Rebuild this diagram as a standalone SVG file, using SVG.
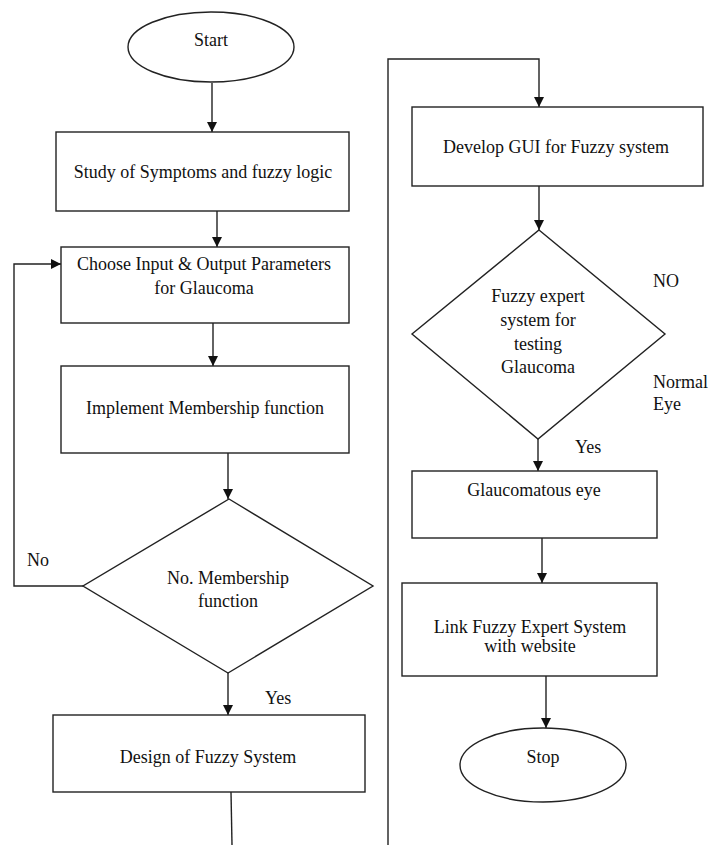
<svg xmlns="http://www.w3.org/2000/svg" width="709" height="845" viewBox="0 0 709 845">
<style>
.n{fill:#fff;stroke:#222;stroke-width:1.4}
.c{fill:none;stroke:#222;stroke-width:1.4}
text{font-family:"Liberation Serif","Times New Roman",serif;font-size:18px;fill:#111}
.m{text-anchor:middle}
</style>
<defs>
<marker id="ah" viewBox="0 0 10 10" refX="10" refY="5" markerWidth="10" markerHeight="10" markerUnits="userSpaceOnUse" orient="auto">
<path d="M0,0 L10,5 L0,10 Z" fill="#111"/>
</marker>
</defs>
<rect width="709" height="845" fill="#fff"/>
<g id="connectors">
<path class="c" d="M212,83 V132" marker-end="url(#ah)"/>
<path class="c" d="M217,211 V247" marker-end="url(#ah)"/>
<path class="c" d="M213,323 V366" marker-end="url(#ah)"/>
<path class="c" d="M228,453 V499" marker-end="url(#ah)"/>
<path class="c" d="M83,586 H14 V264 H61" marker-end="url(#ah)"/>
<path class="c" d="M228,673 V715" marker-end="url(#ah)"/>
<path class="c" d="M231,792 L232,845"/>
<path class="c" d="M388,845 V59 H539 V107" marker-end="url(#ah)"/>
<path class="c" d="M539,186 V230" marker-end="url(#ah)"/>
<path class="c" d="M538,439 V471" marker-end="url(#ah)"/>
<path class="c" d="M542,538 V583" marker-end="url(#ah)"/>
<path class="c" d="M546,676 V728" marker-end="url(#ah)"/>
</g>
<g id="start"><ellipse class="n" cx="211" cy="47" rx="83" ry="35"/><text class="m" x="211" y="46">Start</text></g>
<g id="study"><rect class="n" x="56" y="132" width="293" height="79"/><text class="m" x="203" y="178">Study of Symptoms and fuzzy logic</text></g>
<g id="choose"><rect class="n" x="61" y="247" width="288" height="76"/><text class="m" x="204" y="270">Choose Input &amp; Output Parameters</text><text class="m" x="204" y="294">for Glaucoma</text></g>
<g id="implement"><rect class="n" x="61" y="366" width="288" height="87"/><text class="m" x="205" y="414">Implement Membership function</text></g>
<g id="decision1"><polygon class="n" points="229,499 373,586 228,673 83,586"/><text class="m" x="228" y="584">No. Membership</text><text class="m" x="228" y="607">function</text></g>
<text x="27" y="566">No</text>
<text x="265" y="704">Yes</text>
<g id="design"><rect class="n" x="53" y="715" width="312" height="77"/><text class="m" x="208" y="763">Design of Fuzzy System</text></g>
<g id="gui"><rect class="n" x="412" y="107" width="291" height="79"/><text class="m" x="556" y="153">Develop GUI for Fuzzy system</text></g>
<g id="decision2"><polygon class="n" points="539,230 665,334 538,439 412,334"/><text class="m" x="538" y="302">Fuzzy expert</text><text class="m" x="538" y="326">system for</text><text class="m" x="538" y="350">testing</text><text class="m" x="538" y="373">Glaucoma</text></g>
<text x="653" y="287">NO</text>
<text x="653" y="388">Normal</text>
<text x="653" y="410">Eye</text>
<text x="575" y="453">Yes</text>
<g id="glaucomatous"><rect class="n" x="412" y="471" width="245" height="67"/><text class="m" x="534" y="496">Glaucomatous eye</text></g>
<g id="link"><rect class="n" x="402" y="583" width="255" height="93"/><text class="m" x="530" y="633">Link Fuzzy Expert System</text><text class="m" x="530" y="652">with website</text></g>
<g id="stop"><ellipse class="n" cx="543" cy="765" rx="83" ry="37"/><text class="m" x="543" y="763">Stop</text></g>
</svg>
